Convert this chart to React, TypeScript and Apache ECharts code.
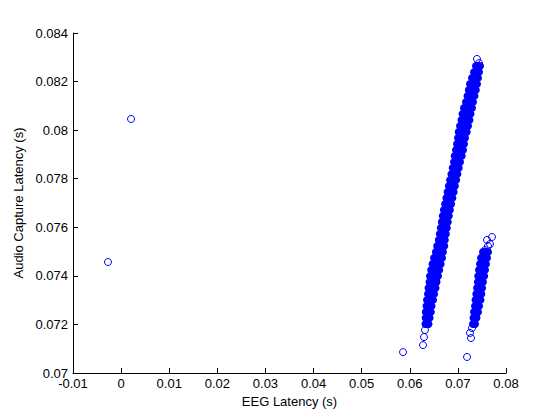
import React, { useEffect, useRef } from "react";
import * as echarts from "echarts";

// Axis ticks
const xTicks = [-0.01, 0, 0.01, 0.02, 0.03, 0.04, 0.05, 0.06, 0.07, 0.08];
const yTicks = [0.07, 0.072, 0.074, 0.076, 0.078, 0.08, 0.082, 0.084];

// Dense part of the main cluster [EEG latency, audio capture latency]
const mainBandCore: [number, number][] = [
  [0.07376, 0.08264], [0.07418, 0.08264], [0.0746, 0.08264],
  [0.07335, 0.08239], [0.07387, 0.08239], [0.07439, 0.08239],
  [0.07293, 0.08215], [0.07356, 0.08215], [0.07418, 0.08215],
  [0.07252, 0.0819], [0.07325, 0.0819], [0.07397, 0.0819],
  [0.07227, 0.08165], [0.073, 0.08165], [0.07372, 0.08165],
  [0.072, 0.08141], [0.07273, 0.08141], [0.07345, 0.08141],
  [0.07169, 0.08116], [0.07241, 0.08116], [0.07314, 0.08116],
  [0.07127, 0.08091], [0.0721, 0.08091], [0.07293, 0.08091],
  [0.07096, 0.08067], [0.07179, 0.08067], [0.07262, 0.08067],
  [0.07075, 0.08042], [0.07158, 0.08042], [0.07241, 0.08042],
  [0.07044, 0.08017], [0.07127, 0.08017], [0.0721, 0.08017],
  [0.07017, 0.07992], [0.071, 0.07992], [0.07183, 0.07992],
  [0.07002, 0.07968], [0.07075, 0.07968], [0.07148, 0.07968],
  [0.06982, 0.07943], [0.07054, 0.07943], [0.07127, 0.07943],
  [0.06961, 0.07918], [0.07034, 0.07918], [0.07106, 0.07918],
  [0.06934, 0.07894], [0.07007, 0.07894], [0.07079, 0.07894],
  [0.06919, 0.07869], [0.06982, 0.07869], [0.07044, 0.07869],
  [0.06892, 0.07844], [0.06955, 0.07844], [0.07017, 0.07844],
  [0.06865, 0.07819], [0.06928, 0.07819], [0.0699, 0.07819],
  [0.06838, 0.07795], [0.06901, 0.07795], [0.06963, 0.07795],
  [0.06813, 0.0777], [0.06876, 0.0777], [0.06938, 0.0777],
  [0.06786, 0.07745], [0.06849, 0.07745], [0.06911, 0.07745],
  [0.06761, 0.07721], [0.06824, 0.07721], [0.06886, 0.07721],
  [0.06734, 0.07696], [0.06797, 0.07696], [0.06859, 0.07696],
  [0.06709, 0.07671], [0.06772, 0.07671], [0.06834, 0.07671],
  [0.06686, 0.07647], [0.06749, 0.07647], [0.06811, 0.07647],
  [0.06666, 0.07622], [0.06728, 0.07622], [0.0679, 0.07622],
  [0.06645, 0.07597], [0.06707, 0.07597], [0.0677, 0.07597],
  [0.06624, 0.07572], [0.06686, 0.07572], [0.06749, 0.07572],
  [0.06603, 0.07548], [0.06666, 0.07548], [0.06728, 0.07548],
  [0.0657, 0.07523], [0.06643, 0.07523], [0.06716, 0.07523],
  [0.06543, 0.07498], [0.06616, 0.07498], [0.06689, 0.07498],
  [0.06504, 0.07474], [0.06587, 0.07474], [0.0667, 0.07474],
  [0.06474, 0.07449], [0.06558, 0.07449], [0.06641, 0.07449],
  [0.06445, 0.07424], [0.06528, 0.07424], [0.06612, 0.07424],
  [0.0642, 0.07399], [0.06504, 0.07399], [0.06587, 0.07399],
  [0.0641, 0.07375], [0.06483, 0.07375], [0.06556, 0.07375],
  [0.06389, 0.0735], [0.06462, 0.0735], [0.06535, 0.0735],
  [0.06379, 0.07325], [0.06441, 0.07325], [0.06504, 0.07325],
  [0.06358, 0.07301], [0.0642, 0.07301], [0.06483, 0.07301],
  [0.06348, 0.07276], [0.064, 0.07276], [0.06452, 0.07276],
  [0.06333, 0.07251], [0.06385, 0.07251], [0.06437, 0.07251],
  [0.06329, 0.07227], [0.06371, 0.07227], [0.06412, 0.07227],
  [0.06327, 0.07202], [0.06358, 0.07202], [0.06389, 0.07202],
];

// Dense part of the second cluster
const sideBandCore: [number, number][] = [
  [0.07522, 0.07498], [0.07574, 0.07498], [0.07626, 0.07498],
  [0.0748, 0.07474], [0.07543, 0.07474], [0.07605, 0.07474],
  [0.0746, 0.07449], [0.07522, 0.07449], [0.07584, 0.07449],
  [0.07439, 0.07424], [0.07501, 0.07424], [0.07564, 0.07424],
  [0.07422, 0.07399], [0.07485, 0.07399], [0.07547, 0.07399],
  [0.07416, 0.07375], [0.07468, 0.07375], [0.0752, 0.07375],
  [0.07399, 0.0735], [0.07451, 0.0735], [0.07503, 0.0735],
  [0.07383, 0.07325], [0.07435, 0.07325], [0.07487, 0.07325],
  [0.07366, 0.07301], [0.07418, 0.07301], [0.0747, 0.07301],
  [0.07356, 0.07276], [0.07397, 0.07276], [0.07439, 0.07276],
  [0.07335, 0.07251], [0.07376, 0.07251], [0.07418, 0.07251],
  [0.07324, 0.07227], [0.07356, 0.07227], [0.07387, 0.07227],
  [0.07314, 0.07202], [0.07335, 0.07202], [0.07356, 0.07202],
];

// Sparse, individually visible points
const sparsePoints: [number, number][] = [
  [0.00206, 0.08046],
  [-0.00273, 0.07457],
  [0.0586, 0.07086],
  [0.0719, 0.07066],
  [0.07397, 0.08293],
  [0.07439, 0.08276],
  [0.06316, 0.07177],
  [0.06296, 0.07148],
  [0.06275, 0.07115],
  [0.07293, 0.07185],
  [0.07252, 0.07165],
  [0.07272, 0.07144],
  [0.07709, 0.0756],
  [0.07605, 0.07548],
  [0.07626, 0.07523],
  [0.07564, 0.07506],
  [0.07667, 0.07531],
];

const BLUE = "#0000ff";
const FONT = "Liberation Sans";

export default function App() {
  const ref = useRef<HTMLDivElement>(null);
  useEffect(() => {
    if (!ref.current) return;
    const chart = echarts.init(ref.current, undefined, { renderer: "svg" });
    const axisCommon = {
      axisLine: { show: true, onZero: false, lineStyle: { color: "#000", width: 1 } },
      axisTick: { show: true, inside: true, length: 5, lineStyle: { color: "#000" } },
      splitLine: { show: false },
      nameTextStyle: { color: "#000", fontSize: 13, fontFamily: FONT },
    };
    chart.setOption({
      animation: false,
      backgroundColor: "#fff",
      grid: { left: 73, right: 54, top: 33, bottom: 47, containLabel: false },
      xAxis: {
        type: "value",
        min: xTicks[0],
        max: xTicks[xTicks.length - 1],
        interval: 0.01,
        name: "EEG Latency (s)",
        nameLocation: "middle",
        nameGap: 22,
        ...axisCommon,
        axisLabel: { color: "#000", fontSize: 13, fontFamily: FONT, margin: 4 },
      },
      yAxis: {
        type: "value",
        min: yTicks[0],
        max: yTicks[yTicks.length - 1],
        interval: 0.002,
        name: "Audio Capture Latency (s)",
        nameLocation: "middle",
        nameGap: 45,
        nameRotate: 90,
        ...axisCommon,
        axisLabel: { color: "#000", fontSize: 13, fontFamily: FONT, margin: 5 },
      },
      series: [
        {
          type: "scatter",
          data: mainBandCore,
          symbol: "circle",
          symbolSize: 8,
          silent: true,
          itemStyle: { color: BLUE, opacity: 1 },
        },
        {
          type: "scatter",
          data: sideBandCore,
          symbol: "circle",
          symbolSize: 8,
          silent: true,
          itemStyle: { color: BLUE, opacity: 1 },
        },
        {
          type: "scatter",
          data: sparsePoints,
          symbol: "circle",
          symbolSize: 7,
          silent: true,
          itemStyle: { color: "rgba(0,0,0,0)", borderColor: BLUE, borderWidth: 1, opacity: 1 },
        },
      ],
    });
    return () => chart.dispose();
  }, []);
  return <div ref={ref} style={{ width: 560, height: 420, margin: -8 }} />;
}
